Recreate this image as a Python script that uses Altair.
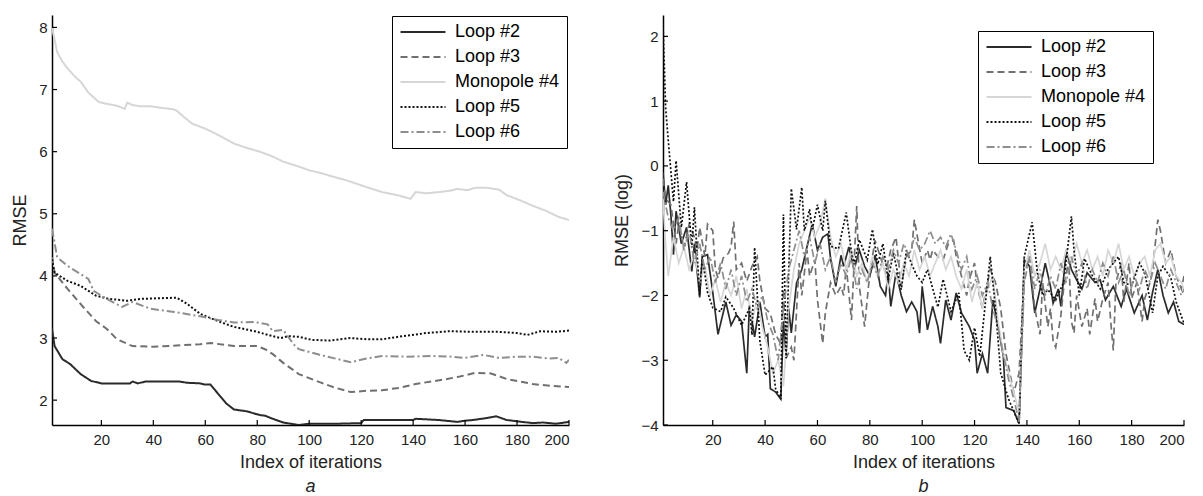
import altair as alt
import pandas as pd

SERIES = ["Loop #2", "Loop #3", "Monopole #4", "Loop #5", "Loop #6"]
COLORS = ["#2b2b2b", "#707070", "#d6d6d6", "#111111", "#8e8e8e"]
DASHES = [[1, 0], [7, 4], [1, 0], [2, 2], [8, 3, 2, 3]]
X_TICKS = [20, 40, 60, 80, 100, 120, 140, 160, 180, 200]
Y_TICKS_A = [2, 3, 4, 5, 6, 7, 8]
Y_TICKS_B = [-4, -3, -2, -1, 0, 1, 2]

# ---- panel a : RMSE (iteration, value)
A_LOOP2 = [(1, 3.15), (2, 2.87), (5, 2.66), (8, 2.58), (12, 2.42), (16, 2.31), (20, 2.27), (31, 2.27),
           (32, 2.3), (34, 2.27), (37, 2.3), (50, 2.3), (53, 2.28), (58, 2.27), (60, 2.25), (62, 2.25),
           (64, 2.15), (66, 2.05), (68, 1.95), (71, 1.85), (76, 1.82), (81, 1.76), (83, 1.75), (86, 1.7),
           (90, 1.64), (96, 1.6), (100, 1.62), (110, 1.62), (120, 1.63), (121, 1.68), (140, 1.68),
           (141, 1.7), (150, 1.68), (157, 1.65), (160, 1.67), (163, 1.68), (168, 1.71), (172, 1.74),
           (176, 1.68), (180, 1.66), (186, 1.63), (190, 1.64), (195, 1.62), (200, 1.65)]
A_LOOP3 = [(1, 4.3), (2, 4.05), (7, 3.79), (13, 3.5), (18, 3.27), (22, 3.15), (26, 2.98), (32, 2.87),
           (40, 2.86), (49, 2.88), (58, 2.9), (62, 2.92), (71, 2.87), (80, 2.87), (83, 2.82), (86, 2.74),
           (90, 2.6), (96, 2.42), (104, 2.29), (110, 2.2), (116, 2.13), (122, 2.15), (128, 2.16),
           (135, 2.2), (141, 2.26), (147, 2.3), (153, 2.34), (158, 2.38), (164, 2.44), (170, 2.43),
           (176, 2.34), (181, 2.3), (186, 2.26), (193, 2.23), (200, 2.21)]
A_MONO4 = [(1, 8.0), (3, 7.6), (5, 7.45), (7, 7.34), (10, 7.2), (12, 7.13), (15, 6.95), (19, 6.8),
           (22, 6.77), (26, 6.74), (29, 6.69), (30, 6.79), (32, 6.75), (35, 6.73), (39, 6.73), (44, 6.7),
           (48, 6.68), (49, 6.66), (52, 6.55), (55, 6.45), (60, 6.37), (64, 6.29), (68, 6.2), (71, 6.13),
           (76, 6.06), (81, 6.0), (86, 5.92), (90, 5.84), (96, 5.76), (100, 5.7), (105, 5.65), (109, 5.6),
           (115, 5.53), (122, 5.43), (128, 5.35), (134, 5.3), (139, 5.24), (141, 5.35), (145, 5.33),
           (150, 5.35), (154, 5.37), (157, 5.4), (161, 5.38), (164, 5.42), (168, 5.42), (173, 5.39),
           (176, 5.3), (181, 5.22), (186, 5.13), (191, 5.05), (196, 4.95), (200, 4.9)]
A_LOOP5 = [(1, 4.27), (2, 4.05), (7, 3.92), (12, 3.84), (18, 3.68), (23, 3.63), (30, 3.6), (35, 3.63),
           (49, 3.65), (53, 3.55), (58, 3.39), (65, 3.27), (71, 3.18), (79, 3.11), (86, 3.03), (89, 3.0),
           (92, 3.03), (96, 3.02), (101, 2.97), (108, 2.96), (116, 3.0), (122, 2.98), (128, 2.98),
           (136, 3.03), (145, 3.08), (154, 3.11), (163, 3.1), (173, 3.1), (180, 3.08), (184, 3.05),
           (189, 3.11), (195, 3.1), (200, 3.12)]
A_LOOP6 = [(1, 4.76), (3, 4.3), (7, 4.16), (12, 4.03), (15, 3.95), (17, 3.76), (22, 3.63), (28, 3.5),
           (32, 3.58), (39, 3.47), (48, 3.42), (58, 3.35), (65, 3.29), (71, 3.25), (79, 3.26), (84, 3.22),
           (86, 3.11), (90, 3.13), (94, 2.9), (96, 2.82), (104, 2.73), (111, 2.66), (116, 2.61),
           (122, 2.67), (128, 2.71), (137, 2.7), (147, 2.71), (155, 2.7), (160, 2.68), (167, 2.73),
           (173, 2.68), (180, 2.7), (186, 2.7), (192, 2.67), (196, 2.68), (199, 2.6), (200, 2.65)]

# ---- panel b : RMSE (log)
B_LOOP2 = [(1, -0.1), (2, -0.6), (3, -0.3), (4, -0.75), (5, -1.37), (6, -0.7), (8, -1.2), (10, -0.95),
           (12, -1.63), (13, -1.2), (15, -2.03), (16, -1.4), (18, -1.37), (20, -1.95), (22, -2.6),
           (25, -2.1), (27, -2.46), (29, -2.3), (31, -2.4), (33, -3.2), (34, -2.15), (36, -2.64),
           (38, -2.1), (40, -2.64), (41, -2.6), (42, -3.44), (44, -3.49), (46, -3.6), (47, -2.4),
           (48, -2.9), (49, -2.2), (50, -2.58), (52, -1.81), (54, -1.6), (56, -1.25), (58, -0.9),
           (60, -1.3), (62, -1.1), (64, -1.05), (65, -1.43), (67, -1.86), (69, -1.38), (70, -1.55),
           (72, -1.25), (74, -1.6), (76, -1.3), (78, -1.55), (80, -1.7), (82, -1.38), (84, -1.86),
           (86, -2.0), (87, -1.65), (88, -2.17), (90, -1.65), (92, -2.0), (94, -2.25), (96, -2.1),
           (98, -2.25), (99, -2.58), (100, -1.86), (102, -2.53), (104, -2.17), (106, -2.48),
           (107, -2.74), (109, -2.07), (111, -2.38), (113, -1.96), (115, -2.27), (118, -2.48),
           (120, -2.69), (121, -3.2), (123, -2.9), (125, -3.2), (127, -2.07), (129, -2.48),
           (131, -2.94), (132, -3.73), (135, -3.78), (137, -3.98), (139, -1.45), (141, -1.55),
           (143, -2.27), (145, -1.9), (147, -1.5), (149, -1.86), (150, -2.12), (152, -1.9),
           (153, -2.17), (155, -1.3), (157, -1.6), (159, -1.76), (161, -1.9), (163, -1.65),
           (166, -1.8), (168, -1.76), (170, -2.07), (173, -1.86), (176, -2.17), (178, -1.9),
           (181, -2.27), (184, -2.0), (186, -2.38), (188, -1.95), (190, -1.6), (192, -2.0),
           (194, -2.27), (196, -2.1), (198, -2.4), (200, -2.45)]
B_LOOP3 = [(1, -0.2), (2, -0.5), (4, -0.6), (6, -1.2), (7, -0.9), (9, -1.27), (11, -0.9), (13, -1.1),
           (14, -1.3), (15, -0.95), (17, -1.4), (18, -0.9), (20, -1.0), (21, -1.6), (22, -1.73),
           (24, -1.42), (26, -1.35), (27, -1.25), (28, -0.86), (29, -1.6), (31, -1.5), (33, -1.78),
           (35, -1.55), (37, -1.4), (38, -1.78), (40, -2.2), (42, -2.28), (44, -2.6), (46, -2.75),
           (47, -1.9), (48, -2.97), (50, -2.8), (51, -3.0), (53, -1.5), (54, -2.0), (56, -1.3),
           (57, -1.7), (59, -1.45), (60, -2.07), (62, -2.74), (63, -2.27), (65, -1.8), (67, -2.0),
           (69, -1.86), (70, -2.0), (71, -1.55), (73, -2.38), (75, -0.62), (76, -1.86), (78, -2.48),
           (80, -1.65), (82, -1.15), (84, -1.4), (86, -1.65), (88, -1.3), (90, -1.1), (92, -1.86),
           (94, -1.4), (96, -1.3), (97, -0.83), (99, -1.28), (100, -1.5), (102, -1.3), (103, -1.45),
           (104, -1.3), (106, -1.4), (108, -1.45), (110, -1.2), (112, -1.15), (113, -1.4),
           (115, -1.7), (117, -2.0), (118, -1.75), (120, -1.5), (121, -1.85), (123, -2.2),
           (124, -2.0), (126, -1.6), (128, -1.8), (130, -2.2), (132, -2.9), (133, -3.1), (135, -3.5),
           (137, -3.2), (139, -1.65), (141, -1.4), (143, -2.2), (145, -2.6), (146, -1.8),
           (148, -2.48), (149, -2.2), (150, -2.7), (151, -2.8), (153, -2.3), (154, -1.9),
           (156, -1.45), (157, -2.4), (158, -2.58), (159, -2.0), (161, -2.48), (163, -2.2),
           (164, -2.6), (166, -2.05), (167, -2.4), (169, -2.05), (171, -1.8), (172, -2.4),
           (173, -2.85), (174, -1.8), (176, -1.5), (177, -2.1), (179, -1.5), (180, -2.05),
           (182, -1.8), (184, -2.4), (185, -2.05), (187, -1.8), (188, -1.6), (190, -0.83),
           (191, -1.0), (192, -1.25), (193, -1.5), (195, -1.3), (197, -1.7), (199, -1.9), (200, -1.7)]
B_MONO4 = [(1, -0.5), (2, -1.2), (3, -1.7), (5, -1.1), (7, -1.5), (9, -1.25), (11, -1.6), (13, -1.35),
           (15, -1.8), (17, -1.55), (19, -2.0), (21, -1.75), (23, -2.1), (25, -1.8), (27, -2.0),
           (29, -1.7), (31, -2.2), (33, -1.9), (35, -2.4), (37, -2.05), (39, -2.5), (41, -2.8),
           (43, -3.2), (45, -3.0), (47, -3.4), (49, -2.2), (51, -1.6), (53, -1.2), (55, -1.0),
           (57, -0.8), (59, -1.1), (61, -0.9), (63, -0.5), (65, -1.1), (67, -1.4), (69, -1.2),
           (71, -1.6), (73, -1.3), (75, -1.7), (77, -1.5), (79, -1.8), (81, -1.4), (83, -1.7),
           (85, -1.5), (87, -1.9), (89, -1.6), (91, -1.8), (93, -1.5), (95, -1.7), (97, -1.3),
           (99, -1.6), (101, -1.4), (103, -1.7), (105, -1.5), (107, -1.3), (109, -1.6), (111, -1.4),
           (113, -1.7), (115, -1.9), (117, -1.6), (119, -2.1), (121, -1.8), (123, -2.2), (125, -1.9),
           (127, -1.7), (129, -2.4), (131, -2.9), (133, -3.2), (135, -3.5), (137, -3.8), (139, -1.6),
           (141, -1.3), (143, -1.7), (145, -1.5), (147, -1.2), (149, -1.6), (151, -1.4), (153, -1.6),
           (155, -1.3), (157, -1.5), (159, -1.2), (161, -1.5), (163, -1.3), (165, -1.6), (167, -1.4),
           (169, -1.7), (171, -1.3), (173, -1.5), (175, -1.2), (177, -1.6), (179, -1.4), (181, -1.7),
           (183, -1.5), (185, -1.4), (187, -1.7), (189, -1.3), (191, -1.2), (193, -1.5), (195, -1.4),
           (197, -1.7), (199, -1.8), (200, -1.9)]
B_LOOP5 = [(1, 2.2), (2, 0.9), (3, 0.4), (5, -0.55), (6, 0.08), (8, -0.95), (10, -0.25), (12, -1.26),
           (13, -0.64), (15, -2.0), (16, -1.4), (18, -1.95), (20, -2.19), (23, -2.25), (25, -2.02),
           (28, -2.2), (31, -2.46), (34, -2.2), (35, -2.61), (36, -1.26), (38, -2.7), (40, -3.23),
           (43, -3.1), (44, -3.44), (46, -3.6), (47, -0.75), (48, -2.97), (50, -0.35), (52, -0.98),
           (54, -0.33), (55, -1.0), (57, -0.67), (58, -0.98), (60, -0.6), (62, -1.0), (63, -0.54),
           (65, -1.24), (68, -1.28), (71, -0.72), (73, -1.34), (74, -1.52), (76, -1.14), (79, -1.45),
           (81, -0.98), (83, -1.52), (85, -1.2), (87, -1.76), (89, -1.34), (92, -1.91), (94, -1.3),
           (96, -1.52), (98, -1.7), (100, -1.8), (102, -1.6), (106, -2.18), (108, -1.75), (111, -2.25),
           (114, -1.96), (116, -2.85), (118, -3.0), (120, -2.5), (122, -2.94), (126, -1.4),
           (128, -2.2), (130, -3.2), (133, -3.6), (137, -3.98), (139, -1.4), (142, -0.87),
           (144, -1.65), (146, -2.0), (148, -1.91), (151, -2.07), (154, -1.8), (157, -0.78),
           (158, -1.3), (160, -2.0), (162, -1.43), (165, -1.7), (168, -1.9), (171, -1.6), (175, -1.4),
           (177, -1.8), (180, -1.85), (183, -1.5), (185, -1.65), (188, -2.27), (190, -1.7),
           (192, -1.55), (195, -1.73), (197, -2.1), (200, -2.43)]
B_LOOP6 = [(1, -0.4), (3, -0.8), (5, -1.0), (7, -0.8), (9, -1.3), (11, -1.0), (13, -1.5), (15, -1.2),
           (17, -1.6), (19, -1.4), (21, -1.8), (23, -1.5), (25, -1.9), (27, -1.6), (29, -2.0),
           (31, -1.7), (33, -2.1), (35, -1.9), (37, -2.2), (39, -2.0), (41, -2.4), (43, -2.6),
           (45, -3.0), (47, -2.2), (49, -1.6), (51, -1.3), (53, -1.0), (55, -1.4), (57, -1.1),
           (59, -1.5), (61, -1.2), (63, -1.6), (65, -1.4), (67, -1.8), (69, -1.5), (71, -1.7),
           (73, -1.4), (75, -1.9), (77, -1.6), (79, -1.8), (81, -1.5), (83, -1.7), (85, -1.4),
           (87, -1.6), (89, -1.3), (91, -1.5), (93, -1.2), (95, -1.4), (97, -1.1), (99, -1.3),
           (101, -1.2), (103, -1.0), (105, -1.2), (107, -1.1), (109, -1.25), (111, -1.05), (113, -1.3),
           (115, -1.6), (117, -1.4), (119, -1.9), (121, -1.7), (123, -2.0), (125, -1.8), (127, -2.2),
           (129, -2.5), (131, -2.9), (133, -3.3), (135, -3.6), (137, -3.95), (139, -1.8), (141, -1.4),
           (143, -1.9), (145, -1.6), (147, -2.0), (149, -1.7), (151, -1.9), (153, -1.5), (155, -1.8),
           (157, -1.4), (159, -1.7), (161, -1.5), (163, -1.9), (165, -1.6), (167, -1.8), (169, -1.5),
           (171, -1.7), (173, -1.4), (175, -1.8), (177, -1.6), (179, -2.0), (181, -1.7), (183, -1.9),
           (185, -1.6), (187, -1.8), (189, -1.5), (191, -1.7), (193, -1.9), (195, -1.6), (197, -1.8),
           (199, -2.0), (200, -1.9)]

H = 410
FONT = "Liberation Sans"


def to_frame(groups):
    rows = []
    for name, pts in zip(SERIES, groups):
        for it, v in pts:
            rows.append({"iter": it, "value": v, "series": name})
    return pd.DataFrame(rows)


def panel(df, ydom, yticks, ytitle, letter, lx, ly, width, sw):
    xscale = alt.Scale(domain=[1, 200], nice=False, zero=False)
    yscale = alt.Scale(domain=ydom, nice=False, zero=False)
    xaxis = alt.Axis(values=X_TICKS, title="Index of iterations", ticks=False, grid=False,
                     domainColor="black", domainWidth=1.5, labelFontSize=15,
                     labelColor="#222", labelPadding=7, titleFontSize=18,
                     titleFontWeight="normal", titleColor="#222", titlePadding=6)
    yaxis = alt.Axis(values=yticks, title=ytitle, ticks=False, grid=False,
                     domainColor="black", domainWidth=1.5, labelFontSize=15,
                     labelColor="#222", labelPadding=5, titleFontSize=18,
                     titleFontWeight="normal", titleColor="#222", titlePadding=9)
    legend = alt.Legend(orient="none", legendX=lx, legendY=ly, title=None,
                        strokeColor="black", fillColor="white", padding=7,
                        labelFontSize=18, labelFont=FONT, labelColor="black",
                        symbolType="M-1,0H5", symbolSize=225, symbolStrokeWidth=2,
                        rowPadding=7, labelOffset=38, cornerRadius=0)
    lines = alt.Chart(df).mark_line(strokeWidth=sw, clip=True).encode(
        x=alt.X("iter:Q", scale=xscale, axis=xaxis),
        y=alt.Y("value:Q", scale=yscale, axis=yaxis),
        color=alt.Color("series:N", scale=alt.Scale(domain=SERIES, range=COLORS), legend=legend),
        strokeDash=alt.StrokeDash("series:N", scale=alt.Scale(domain=SERIES, range=DASHES), legend=legend),
    )
    xt = alt.Chart(pd.DataFrame({"iter": X_TICKS})).mark_rule(color="black", strokeWidth=1.2).encode(
        x=alt.X("iter:Q", scale=xscale, axis=xaxis), y=alt.value(H), y2=alt.value(H - 5))
    yt = alt.Chart(pd.DataFrame({"value": yticks})).mark_rule(color="black", strokeWidth=1.2).encode(
        y=alt.Y("value:Q", scale=yscale, axis=yaxis), x=alt.value(0), x2=alt.value(5))
    return alt.layer(lines, xt, yt).properties(
        width=width, height=H,
        title=alt.TitleParams(letter, orient="bottom", fontStyle="italic", fontSize=18,
                              fontWeight="normal", font=FONT, color="#222", offset=7))


dfa = to_frame([A_LOOP2, A_LOOP3, A_MONO4, A_LOOP5, A_LOOP6])
dfb = to_frame([B_LOOP2, B_LOOP3, B_MONO4, B_LOOP5, B_LOOP6])

pa = panel(dfa, [1.6, 8.2], Y_TICKS_A, "RMSE", "a", 340, 1, 517, 2)
pb = panel(dfb, [-4, 2.33], Y_TICKS_B, "RMSE (log)", "b", 315, 16, 521, 1.7)

chart = alt.hconcat(pa, pb, spacing=43).resolve_scale(
    color="independent", strokeDash="independent"
).resolve_legend(
    color="independent", strokeDash="independent"
).properties(
    padding={"left": 11, "top": 15, "right": 5, "bottom": 0}
).configure(font=FONT).configure_view(stroke=None)

chart.save("out.html", embed_options={"renderer": "svg", "actions": False})
